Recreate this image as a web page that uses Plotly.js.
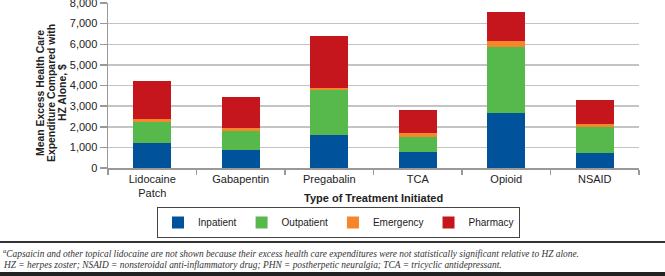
<!DOCTYPE html>
<html>
<head>
<meta charset="utf-8">
<script src="https://cdn.plot.ly/plotly-3.0.1.min.js"></script>
<style>html,body{margin:0;padding:0;background:#fff;}#chart{width:665px;height:276px;}</style>
</head>
<body>
<div id="chart"></div>
<script>
var categories = ["Lidocaine<br>Patch", "Gabapentin", "Pregabalin", "TCA", "Opioid", "NSAID"];
var inpatient  = [1220, 860, 1600, 800, 2680, 730];
var outpatient = [1020, 940, 2200, 710, 3180, 1270];
var emergency  = [130, 120, 80, 180, 290, 110];
var pharmacy   = [1830, 1530, 2540, 1100, 1430, 1180];
var seriesNames = ["Inpatient", "Outpatient", "Emergency", "Pharmacy"];
var seriesColors = ["#00529B", "#57B94B", "#F5862B", "#C4161C"];
var yTickVals = [0, 1000, 2000, 3000, 4000, 5000, 6000, 7000, 8000];
var yTickText = ["0", "1,000", "2,000", "3,000", "4,000", "5,000", "6,000", "7,000", "8,000"];
var yTitleLines = ["Mean Excess Health Care", "Expenditure Compared with", "HZ Alone, $"];

var seriesValues = [inpatient, outpatient, emergency, pharmacy];
var traces = seriesValues.map(function (vals, i) {
  return {
    type: "bar",
    name: seriesNames[i],
    x: categories,
    y: vals,
    marker: {color: seriesColors[i], line: {width: 0}},
    hoverinfo: "x+y+name"
  };
});

// pixel helpers for the fixed 665x276 frame
var L = 108, R = 26, T = 3, B = 108, W = 665, H = 276;
var pw = W - L - R, ph = H - T - B;
function px(x) { return (x - L) / pw; }
function py(y) { return (H - B - y) / ph; }

var yTitleX = [40, 51, 62];
var yTitleAnnots = yTitleLines.map(function (t, i) {
  return {
    xref: "paper", yref: "paper", x: px(yTitleX[i]), y: py(93),
    xanchor: "center", yanchor: "middle", textangle: -90, showarrow: false,
    text: "<b>" + t + "</b>",
    font: {size: 10.4, color: "#222"}
  };
});

var layout = {
  width: W, height: H,
  margin: {l: L, r: R, t: T, b: B, pad: 0},
  paper_bgcolor: "#fff", plot_bgcolor: "#fff",
  barmode: "stack",
  bargap: 0.57,
  font: {family: "Liberation Sans, Arial, sans-serif", size: 11, color: "#222"},
  showlegend: true,
  legend: {
    orientation: "h", traceorder: "normal",
    x: px(338.5), xanchor: "center", y: py(207), yanchor: "top",
    bordercolor: "#444", borderwidth: 1, bgcolor: "#fff",
    font: {size: 10, color: "#222"},
    itemwidth: 30, itemclick: false,
    tracegroupgap: 0
  },
  xaxis: {
    type: "category",
    showline: true, linecolor: "#999", linewidth: 1.5,
    ticks: "outside", tickson: "boundaries", ticklen: 5, tickcolor: "#999", tickwidth: 1.5,
    showgrid: false, zeroline: false,
    tickfont: {size: 11, color: "#222"},
    automargin: false
  },
  yaxis: {
    range: [0, 8000],
    tickvals: yTickVals, ticktext: yTickText,
    ticklabeloverflow: "allow",
    showline: true, linecolor: "#999", linewidth: 1.5,
    ticks: "outside", ticklen: 7, tickcolor: "#999", tickwidth: 1.5,
    showgrid: true, gridcolor: "#c4c4c4", gridwidth: 1.5,
    zeroline: false,
    tickfont: {size: 11, color: "#222"},
    automargin: false
  },
  annotations: yTitleAnnots.concat([
    {
      xref: "paper", yref: "paper", x: px(373.5), y: py(197.5),
      xanchor: "center", yanchor: "middle", showarrow: false,
      text: "<b>Type of Treatment Initiated</b>",
      font: {size: 11, color: "#222"}
    },
    {
      xref: "paper", yref: "paper", x: px(1), y: py(253), xanchor: "left", yanchor: "middle", showarrow: false,
      text: "<i><sup>a</sup>Capsaicin and other topical lidocaine are not shown because their excess health care expenditures were not statistically significant relative to HZ alone.</i>",
      font: {family: "Liberation Serif, serif", size: 9.4, color: "#333"}
    },
    {
      xref: "paper", yref: "paper", x: px(1), y: py(265), xanchor: "left", yanchor: "middle", showarrow: false,
      text: "<i>HZ = herpes zoster; NSAID = nonsteroidal anti-inflammatory drug; PHN = postherpetic neuralgia; TCA = tricyclic antidepressant.</i>",
      font: {family: "Liberation Serif, serif", size: 9.4, color: "#333"}
    }
  ]),
  shapes: [
    {type: "line", xref: "paper", yref: "paper", x0: px(0), x1: px(665), y0: py(242), y1: py(242),
     line: {color: "#333", width: 2}},
    {type: "rect", xref: "paper", yref: "paper", x0: px(0), x1: px(665), y0: py(272), y1: py(277),
     line: {width: 0}, fillcolor: "#222"}
  ]
};

Plotly.newPlot("chart", traces, layout, {displayModeBar: false, staticPlot: true});
</script>
</body>
</html>
